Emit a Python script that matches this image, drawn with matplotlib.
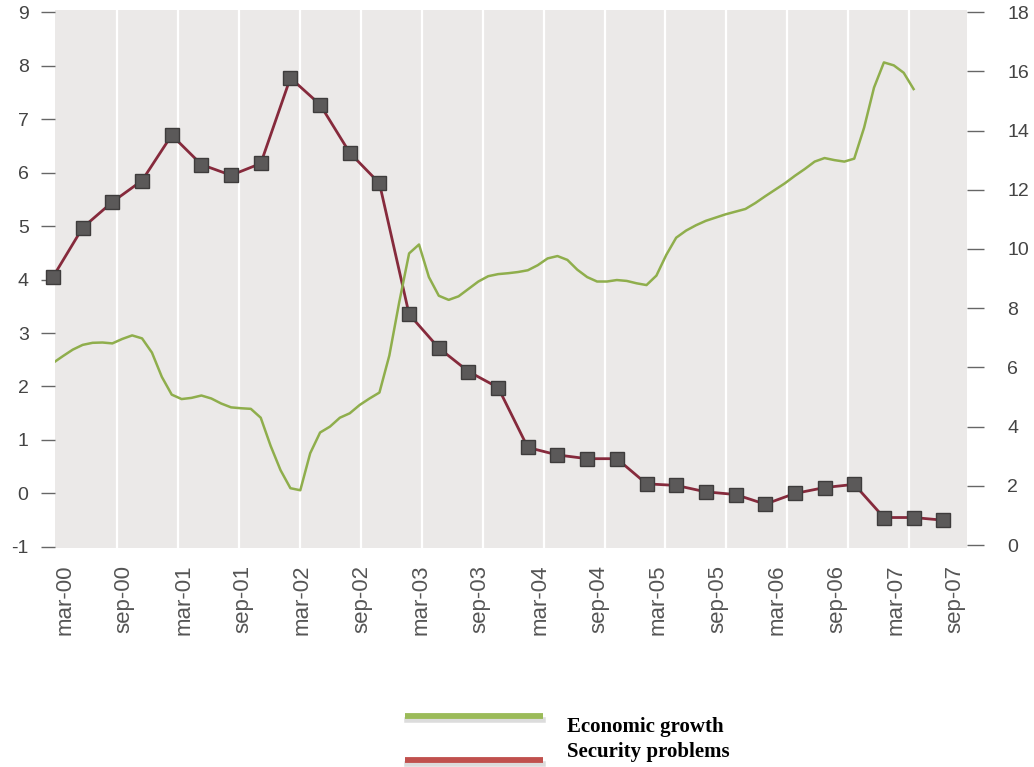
import numpy as np
import matplotlib
matplotlib.use("Agg")
import matplotlib.pyplot as plt
from matplotlib.lines import Line2D

# ---------------- data ----------------
tick_labels = ['mar-00', 'sep-00', 'mar-01', 'sep-01', 'mar-02', 'sep-02',
               'mar-03', 'sep-03', 'mar-04', 'sep-04', 'mar-05', 'sep-05',
               'mar-06', 'sep-06', 'mar-07', 'sep-07']

# Security problems (left axis), quarterly from mar-00 to sep-07
security = [4.05, 4.97, 5.45, 5.85, 6.70, 6.15, 5.95, 6.17, 7.77, 7.27,
            6.37, 5.80, 3.35, 2.72, 2.28, 1.98, 0.86, 0.72, 0.65, 0.65,
            0.18, 0.15, 0.03, -0.02, -0.20, 0.00, 0.11, 0.17, -0.45, -0.45,
            -0.50]

# Economic growth (right axis), monthly from mar-00
growth = [6.15, 6.38, 6.60, 6.76, 6.83, 6.84, 6.81, 6.96, 7.08, 6.98,
          6.50, 5.68, 5.08, 4.93, 4.97, 5.05, 4.95, 4.78, 4.65, 4.62,
          4.60, 4.30, 3.35, 2.53, 1.92, 1.85, 3.10, 3.80, 4.00, 4.30,
          4.45, 4.73, 4.95, 5.15, 6.40, 8.20, 9.85, 10.15, 9.05, 8.42,
          8.28, 8.40, 8.65, 8.90, 9.08, 9.15, 9.18, 9.22, 9.28, 9.45,
          9.68, 9.76, 9.63, 9.30, 9.05, 8.90, 8.90, 8.95, 8.92, 8.84,
          8.78, 9.10, 9.80, 10.38, 10.62, 10.80, 10.95, 11.06, 11.17, 11.26,
          11.35, 11.55, 11.78, 12.00, 12.22, 12.47, 12.70, 12.95, 13.07, 13.00,
          12.95, 13.05, 14.10, 15.45, 16.30, 16.20, 15.95, 15.40]

left_ticks = list(range(-1, 10))
right_ticks = list(range(0, 19, 2))

# ---------------- figure ----------------
W, H = 1034, 767
fig = plt.figure(figsize=(W / 100, H / 100), dpi=100)
fig.patch.set_facecolor('white')

ax = fig.add_axes([55 / W, 1 - 548 / H, (967 - 55) / W, (548 - 10) / H])
ax.set_facecolor('#ebe9e8')
for s in ax.spines.values():
    s.set_visible(False)

xq = np.arange(len(security))
xm = np.arange(len(growth)) / 3.0

ax.set_xlim(0.067, 30.8)
ax.set_ylim(-1.02, 9.04)

# vertical white separators
for xv in np.linspace(2.16, 28.85, 14):
    ax.axvline(xv, color='white', lw=1.6, zorder=1)

ax.plot(xq, security, color='#862a3c', lw=2.0, zorder=3, clip_on=False)
ax.plot(xq, security, linestyle='none', marker='s', markersize=10.5,
        markerfacecolor='#5b5959', markeredgecolor='#3e3c3c',
        markeredgewidth=1.0, zorder=4, clip_on=False)

ax.set_yticks(left_ticks)
ax.set_yticklabels([str(v) for v in left_ticks])
ax.tick_params(axis='y', direction='out', length=10, width=1.0,
               color='#666666', pad=9, labelsize=14, labelcolor='#444444')

ax.set_xticks(np.arange(len(tick_labels)) * 2 + 0.4)
ax.set_xticklabels(tick_labels, rotation=90, fontsize=16,
                   color='#555555', family='Liberation Sans', va='top')
ax.tick_params(axis='x', length=0, pad=12)
for lab in ax.get_yticklabels():
    lab.set_family('Liberation Sans')

ax2 = ax.twinx()
for s in ax2.spines.values():
    s.set_visible(False)
ax2.set_ylim(-0.1, 18.07)
ax2.plot(xm, growth, color='#8fae4c', lw=1.8, zorder=5)
ax2.set_yticks(right_ticks)
ax2.set_yticklabels([str(v) for v in right_ticks])
ax2.tick_params(axis='y', direction='out', length=12, width=1.0,
                color='#666666', pad=17, labelsize=14, labelcolor='#444444')
for lab in ax2.get_yticklabels():
    lab.set_family('Liberation Sans')

# ---------------- custom legend ----------------
def fx(px):
    return px / W

def fy(py):
    return 1 - py / H

for y, c in [(716, '#9bbb59'), (760, '#c0504d')]:
    fig.add_artist(Line2D([fx(407), fx(543)], [fy(y + 4), fy(y + 4)],
                          color='#bbbbbb', lw=4, alpha=0.5))
    fig.add_artist(Line2D([fx(405), fx(543)], [fy(y), fy(y)],
                          color=c, lw=4.2, solid_capstyle='butt'))

fig.text(fx(567), fy(727), 'Economic growth', fontsize=15, fontweight='bold',
         family='Liberation Serif', va='center', ha='left', color='black')
fig.text(fx(567), fy(752), 'Security problems', fontsize=15, fontweight='bold',
         family='Liberation Serif', va='center', ha='left', color='black')

fig.savefig('out.png', dpi=100, facecolor='white')
